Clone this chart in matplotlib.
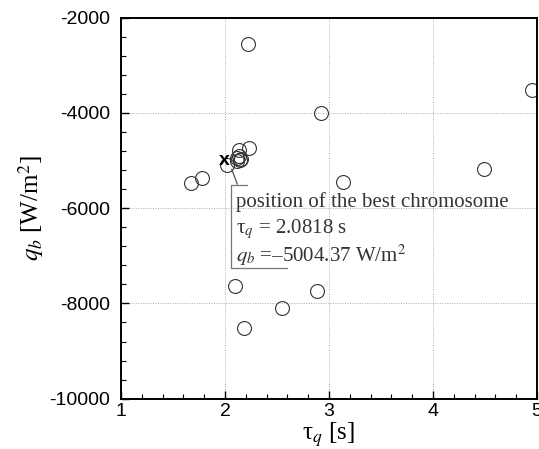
import matplotlib
matplotlib.use("Agg")
import matplotlib.pyplot as plt
from matplotlib.ticker import MultipleLocator

# population positions (tau_q [s], q_b [W/m^2])
tau_q = [2.224, 4.955, 2.923, 2.234, 2.135, 2.118, 2.13, 2.14, 2.12, 2.15,
         2.016, 1.779, 1.673, 3.138, 4.494, 2.096, 2.888, 2.551, 2.183]
q_b = [-2562, -3522, -4011, -4733, -4781, -4955, -4900, -4980, -5010, -4960,
       -5096, -5362, -5480, -5459, -5180, -7636, -7734, -8091, -8524]

best_label_pos = (1.99, -4991)
annot_lines = ["position of the best chromosome",
               "τ$_q$ = 2.0818 s",
               r"$q_b$ =–5004.37 W/m$^2$"]
# callout frame (data coords)
leader_x = [2.065, 2.118]
leader_y = [-5186, -5495]
frame_x = [2.208, 2.054, 2.054, 2.593]
frame_y = [-5517, -5517, -7264, -7264]

xticks = [1, 2, 3, 4, 5]
yticks = [-10000, -8000, -6000, -4000, -2000]

plt.rcParams['mathtext.fontset'] = 'stix'
plt.rcParams['axes.unicode_minus'] = False

fig = plt.figure(figsize=(5.39, 4.49), dpi=100)
ax = fig.add_axes([0.2245, 0.112, 0.7718, 0.849])

ax.plot(tau_q, q_b, linestyle='none', marker='o', markersize=10,
        markerfacecolor='none', markeredgecolor='#333333', markeredgewidth=0.8)

ax.text(best_label_pos[0], best_label_pos[1], 'x', fontsize=14, fontweight='bold',
        family='Liberation Sans', ha='center', va='center', color='black')

ax.plot(leader_x, leader_y, color='#555555', lw=0.9)
ax.plot(frame_x, frame_y, color='#777777', lw=0.9)

tx = 2.11
for i, s in enumerate(annot_lines):
    ax.text(tx, -5870 - i * 560, s, fontsize=15, family='Liberation Serif',
            color='#333333', va='center', ha='left')

ax.set_xlim(1, 5)
ax.set_ylim(-10000, -2000)
ax.set_xticks(xticks)
ax.set_yticks(yticks)
ax.xaxis.set_minor_locator(MultipleLocator(0.2))
ax.yaxis.set_minor_locator(MultipleLocator(400))
ax.tick_params(which='both', direction='in', top=False, right=False)
ax.tick_params(which='major', length=6, width=1.0, labelsize=14)
ax.tick_params(axis='y', which='major', pad=8)
ax.tick_params(axis='x', which='major', pad=3)
ax.tick_params(which='minor', length=3.5, width=0.8)
for lab in ax.get_xticklabels() + ax.get_yticklabels():
    lab.set_family('Liberation Sans')

ax.grid(True, which='major', linestyle=(0, (1, 1.5)), color='#aaaaaa', lw=0.7)
for sp in ax.spines.values():
    sp.set_linewidth(1.4)

ax.set_xlabel("τ$_q$ [s]", fontsize=18, family='Liberation Serif', labelpad=0)
ax.set_ylabel(r"$q_b$ [W/m$^2$]", fontsize=18, family='Liberation Serif', labelpad=2)

fig.savefig("out.png", dpi=100)
